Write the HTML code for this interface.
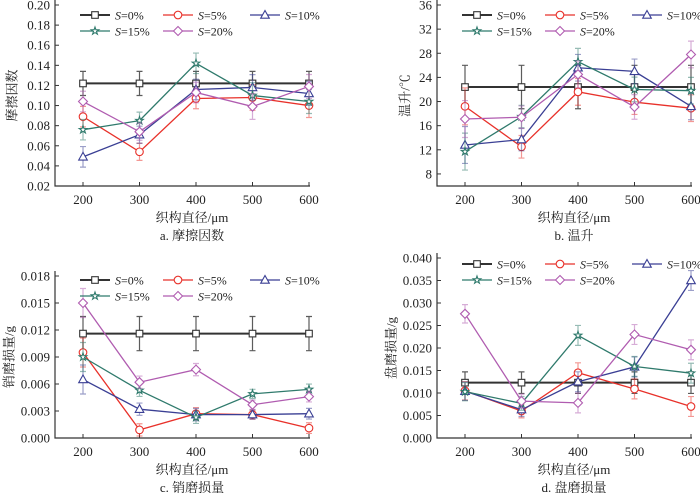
<!DOCTYPE html>
<html><head><meta charset="utf-8"><style>
body{margin:0;background:#fff}
svg{display:block;font-family:"Liberation Serif","Noto Serif CJK SC",serif}
</style></head><body>
<svg id="c" width="700" height="493" viewBox="0 0 700 493" xmlns="http://www.w3.org/2000/svg"></svg>
<script>
const categories=[200,300,400,500,600];
const seriesNames=["0%","5%","10%","15%","20%"];
const aS0=[0.122,0.122,0.122,0.122,0.122], aS5=[0.089,0.054,0.107,0.108,0.100], aS10=[0.049,0.071,0.116,0.118,0.112], aS15=[0.076,0.085,0.142,0.110,0.104], aS20=[0.104,0.074,0.113,0.099,0.119];
const aErr=[0.012,0.010,0.012,0.015,0.014];
const bS0=[22.4,22.4,22.4,22.4,22.4], bS5=[19.2,12.5,21.6,19.9,18.9], bS10=[12.8,13.7,25.6,25.0,19.2], bS15=[11.7,17.5,26.6,22.0,21.8], bS20=[17.1,17.4,24.5,19.1,27.8];
const bErr=[3.6,2.2,2.6,2.4,2.6];
const cS0=[0.0116,0.0116,0.0116,0.0116,0.0116], cS5=[0.0095,0.0009,0.0027,0.0026,0.0011], cS10=[0.0065,0.0032,0.0026,0.0026,0.0027], cS15=[0.0090,0.0053,0.0023,0.0049,0.0054], cS20=[0.0150,0.0062,0.0076,0.0037,0.0046];
const cErr=[0.0019,0.0008,0.0008,0.0006,0.0007];
const dS0=[0.0123,0.0123,0.0123,0.0123,0.0123], dS5=[0.0105,0.0060,0.0145,0.0109,0.0070], dS10=[0.0104,0.0063,0.0125,0.0158,0.0350], dS15=[0.0103,0.0077,0.0228,0.0159,0.0144], dS20=[0.0276,0.0082,0.0078,0.0230,0.0196];
const dErr=[0.0024,0.0018,0.0026,0.0026,0.0026];
const aTicks=["0.02","0.04","0.06","0.08","0.10","0.12","0.14","0.16","0.18","0.20"];
const bTicks=["8","12","16","20","24","28","32","36"];
const cTicks=["0.000","0.003","0.006","0.009","0.012","0.015","0.018"];
const dTicks=["0.000","0.005","0.010","0.015","0.020","0.025","0.030","0.035","0.040"];
const colors=["#333333","#e8312a","#3a3f94","#2f7a6c","#b05cb0"];
const markers=["square","circle","triangle","star","diamond"];
const NS="http://www.w3.org/2000/svg";
const svg=document.getElementById('c');
function mk(t,a,p){const e=document.createElementNS(NS,t);for(const k in a)e.setAttribute(k,a[k]);(p||svg).appendChild(e);return e;}
function marker(g,type,x,y,col){
  let e;
  if(type=="square")e=mk('rect',{x:x-3.3,y:y-3.3,width:6.6,height:6.6},g);
  else if(type=="circle")e=mk('circle',{cx:x,cy:y,r:3.8},g);
  else if(type=="triangle")e=mk('polygon',{points:`${x},${y-4.5} ${x+4.3},${y+3.2} ${x-4.3},${y+3.2}`},g);
  else if(type=="diamond")e=mk('polygon',{points:`${x},${y-4.5} ${x+4.5},${y} ${x},${y+4.5} ${x-4.5},${y}`},g);
  else{let p=[];for(let i=0;i<10;i++){const r=i%2?1.6:4,a=-Math.PI/2+i*Math.PI/5;p.push((x+r*Math.cos(a)).toFixed(1)+','+(y+r*Math.sin(a)).toFixed(1));}e=mk('polygon',{points:p.join(' ')},g);}
  e.setAttribute('fill','#fff');e.setAttribute('stroke',col);e.setAttribute('stroke-width','1.1');
  
  
}
function panel(id,ox,yTop,yBot,dmin,dmax,ticks,series,err,ytitle,caption,titleX,legY){
  const g=mk('g',{});
  
  
  const ax=ox, x0=ox+28, x1=ox+254;
  const X=v=>x0+(v-200)/400*(x1-x0);
  const Y=v=>yBot-(v-dmin)/(dmax-dmin)*(yBot-yTop);
  const axes=mk('path',{d:`M${ax},${yTop-5}V${yBot}H${x1+1}`,fill:'none',stroke:'#333','stroke-width':1.2},g);
  
  
  ticks.forEach(t=>{const y=Y(parseFloat(t));
    mk('line',{x1:ax,x2:ax+4,y1:y,y2:y,stroke:'#333'},g);
    const tx=mk('text',{x:ax-5,y:y+4.5,'text-anchor':'end','font-size':13,fill:'#222'},g);tx.textContent=t;
    
    });
  categories.forEach(c=>{const x=X(c);
    mk('line',{x1:x,x2:x,y1:yBot,y2:yBot-4,stroke:'#333'},g);
    const tx=mk('text',{x:x,y:yBot+18,'text-anchor':'middle','font-size':13,fill:'#222'},g);tx.textContent=c;
    
    });
  const xt=mk('text',{x:(ax+x1)/2+10,y:yBot+36,'text-anchor':'middle','font-size':13,fill:'#222'},g);xt.textContent='织构直径/μm';
  
  
  const cp=mk('text',{x:(ax+x1)/2+10,y:yBot+54,'text-anchor':'middle','font-size':13,fill:'#222'},g);cp.textContent=caption;
  
  
  const yc=(yTop+yBot)/2, yx=titleX;
  const yt=mk('text',{x:yx,y:yc,'text-anchor':'middle','dominant-baseline':'central','font-size':13,fill:'#222',transform:`rotate(-90 ${yx} ${yc})`},g);yt.textContent=ytitle;
  
  
  series.forEach((s,i)=>{
    const sg=mk('g',{},g);
    
    
    s.forEach((v,j)=>{const x=X(categories[j]);const e=i==0?err[0]:err[j]*0.85;
      const y1=Y(v+e),y2=Y(v-e);
      const eb=mk('path',{d:`M${x},${y1}V${y2}M${x-3},${y1}H${x+3}M${x-3},${y2}H${x+3}`,stroke:colors[i],'stroke-opacity':i==0?0.8:0.5,'stroke-width':1.2,fill:'none'},sg);
      
      });
    const pl=mk('polyline',{points:s.map((v,j)=>X(categories[j])+','+Y(v)).join(' '),fill:'none',stroke:colors[i],'stroke-width':i==0?2:1.3},sg);
    
    
    s.forEach((v,j)=>marker(sg,markers[i],X(categories[j]),Y(v),colors[i]));
  });
  const lg=mk('g',{},g);
  
  
  const lx=[ax+25,ax+108,ax+195];
  seriesNames.forEach((n,i)=>{const x=lx[i%3],y=legY+(i<3?0:16);
    const eg=mk('g',{},lg);
    
    
    mk('line',{x1:x,x2:x+30,y1:y,y2:y,stroke:colors[i],'stroke-width':i==0?2:1.3},eg);
    marker(eg,markers[i],x+15,y,colors[i]);
    const t=mk('text',{x:x+35,y:y+4.5,'font-size':12,fill:'#222'},eg);
    t.innerHTML='<tspan font-style="italic">S</tspan>=' + n;});
}
panel('panel-friction',55,5,186,0.02,0.20,aTicks,[aS0,aS5,aS10,aS15,aS20],aErr,'摩擦因数','a. 摩擦因数',12,15);
panel('panel-temperature',437,5,186,6,36,bTicks,[bS0,bS5,bS10,bS15,bS20],bErr,'温升/℃','b. 温升',405,15);
panel('panel-pin-wear',55,276,438,0,0.018,cTicks,[cS0,cS5,cS10,cS15,cS20],cErr,'销磨损量/g','c. 销磨损量',9,280);
panel('panel-disc-wear',437,258,438,0,0.040,dTicks,[dS0,dS5,dS10,dS15,dS20],dErr,'盘磨损量/g','d. 盘磨损量',391,264);
</script>
</body></html>
